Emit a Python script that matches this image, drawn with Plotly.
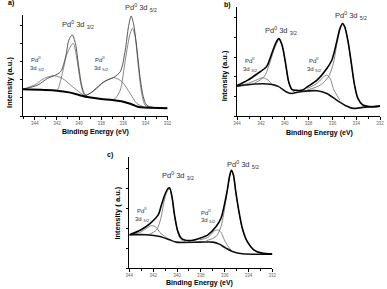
import plotly.graph_objects as go

W, H = 387, 289

# ---------------- data (binding energy eV, intensity a.u. 0-100) ----------------
# panel a
a_bg_E = [345.1, 342.0, 340.9, 340.0, 339.1, 338.0, 337.0, 336.0, 335.3, 334.7, 334.0, 332.0]
a_bg_I = [26.4, 25.1, 23.4, 20.8, 18.5, 16.8, 15.8, 14.2, 11.9, 9.2, 8.3, 7.6]
a_env_E = [345.1, 343.73, 342.84, 342.25, 341.66, 341.21, 340.92, 340.62, 340.33, 340.03, 339.73,
           339.44, 339.0, 338.64, 337.75, 336.86, 336.27, 335.82, 335.53, 335.29, 335.08, 334.79,
           334.49, 334.19, 333.9, 333.3, 332.0]
a_env_I = [26.4, 30.7, 37.3, 39.9, 43.9, 58.7, 75.2, 80.2, 71.9, 48.8, 29.0,
           20.8, 22.4, 25.7, 34.0, 38.3, 43.9, 65.3, 88.4, 99.0, 91.7, 68.6,
           38.9, 19.1, 10.9, 8.6, 7.6]
a_p0_32_E = [342.3, 341.96, 341.51, 341.07, 340.53, 340.18, 339.88, 339.59, 339.3]
a_p0_32_I = [25.2, 25.7, 42.2, 62.0, 71.9, 55.4, 34.0, 22.4, 20.1]
a_p2_32_E = [345.1, 344.03, 343.14, 342.25, 341.51, 340.77, 340.03, 339.44]
a_p2_32_I = [26.4, 30.7, 37.3, 39.9, 37.3, 30.7, 24.1, 19.8]
a_p0_52_E = [336.9, 336.71, 336.27, 335.82, 335.38, 335.17, 334.93, 334.64, 334.34, 334.04, 333.6]
a_p0_52_I = [16.2, 17.5, 25.7, 55.4, 81.8, 86.8, 78.5, 48.8, 22.4, 10.9, 8.3]
a_p2_52_E = [339.41, 338.64, 337.75, 336.86, 336.12, 335.38, 334.79, 334.19]
a_p2_52_I = [20.1, 25.0, 33.5, 38.0, 34.0, 22.4, 12.5, 9.2]

# panel b
b_bg_E = [344.0, 342.5, 341.4, 340.58, 339.89, 339.48, 338.66, 337.29, 336.47, 335.64, 334.82, 334.27, 333.45, 332.0]
b_bg_I = [27.4, 29.3, 29.3, 27.4, 22.3, 20.7, 22.3, 23.2, 20.7, 14.6, 9.1, 7.0, 7.9, 9.1]
b_env_E = [344.0, 343.1, 342.27, 341.59, 341.45, 341.04, 340.77, 340.49, 340.22, 339.95, 339.67, 339.4,
           339.0, 338.5, 338.11, 337.29, 336.47, 336.05, 335.64, 335.37, 335.15, 334.96, 334.68,
           334.41, 334.14, 333.86, 333.45, 332.63, 332.0]
b_env_I = [28.0, 32.9, 39.0, 44.5, 46.6, 58.8, 66.5, 71.0, 64.9, 49.7, 31.4, 24.5,
           23.5, 23.8, 26.8, 32.9, 43.6, 51.2, 68.0, 80.2, 84.8, 81.7, 68.0,
           48.2, 28.4, 16.2, 10.1, 8.5, 9.1]
b_p2_32_E = [344.0, 343.0, 342.3, 341.86, 341.4, 341.0, 340.6]
b_p2_32_I = [27.6, 30.2, 33.4, 35.1, 33.0, 28.4, 27.0]
b_p0_32_E = [342.55, 341.73, 341.32, 340.96, 340.68, 340.49, 340.22, 339.95, 339.67, 339.4, 339.1]
b_p0_32_I = [29.9, 36.0, 46.6, 58.8, 66.5, 70.4, 64.3, 49.1, 31.0, 23.5, 21.5]
b_p2_52_E = [338.11, 337.29, 336.74, 336.47, 336.19, 335.92, 335.64, 335.37]
b_p2_52_I = [25.3, 29.9, 36.0, 37.5, 34.5, 25.3, 19.2, 14.6]
b_p0_52_E = [338.11, 337.01, 336.33, 335.92, 335.64, 335.37, 335.15, 334.96, 334.68, 334.41, 334.14, 333.86, 333.45]
b_p0_52_I = [23.8, 28.4, 36.0, 48.2, 64.9, 78.7, 84.1, 81.1, 67.4, 47.6, 27.8, 15.6, 10.1]

# panel c
c_bg_E = [344.0, 342.54, 341.45, 340.62, 340.07, 338.09, 336.99, 336.45, 335.9, 335.35, 334.52, 332.0]
c_bg_I = [29.9, 29.9, 28.4, 25.4, 23.3, 23.3, 23.3, 21.5, 17.9, 14.9, 12.8, 12.5]
c_env_E = [344.0, 343.09, 342.27, 341.58, 341.31, 341.03, 340.76, 340.62, 340.4, 340.21, 339.93, 339.66,
           339.3, 338.8, 338.09, 337.41, 336.72, 336.31, 336.03, 335.76, 335.57, 335.43, 335.26,
           335.07, 334.8, 334.52, 334.11, 333.56, 332.87, 332.0]
c_env_I = [29.9, 34.0, 40.0, 47.8, 56.7, 65.7, 71.6, 72.2, 62.7, 47.8, 33.0, 27.0,
           25.0, 24.8, 26.9, 29.9, 37.3, 44.8, 56.7, 71.6, 83.6, 88.1, 83.6,
           68.7, 50.7, 35.8, 23.9, 16.4, 13.4, 12.5]
c_p2_32_E = [344.0, 343.09, 342.13, 341.72, 341.45, 341.03, 340.62]
c_p2_32_I = [29.3, 32.2, 38.2, 36.4, 32.2, 28.4, 25.4]
c_p0_32_E = [342.54, 341.72, 341.36, 341.09, 340.84, 340.62, 340.4, 340.21, 339.93, 339.66, 339.3]
c_p0_32_I = [29.3, 34.3, 44.8, 59.7, 68.7, 71.3, 62.0, 47.0, 32.0, 25.5, 23.5]
c_p2_52_E = [338.09, 337.41, 336.86, 336.58, 336.31, 336.03, 335.76, 335.48]
c_p2_52_I = [25.4, 27.5, 33.4, 34.3, 32.2, 25.4, 20.3, 16.4]
c_p0_52_E = [337.54, 336.72, 336.31, 336.03, 335.76, 335.57, 335.43, 335.26, 335.07, 334.8, 334.52, 334.11, 333.56, 332.87]
c_p0_52_I = [24.5, 28.4, 37.3, 52.2, 70.1, 83.0, 87.5, 83.0, 68.2, 50.2, 35.3, 23.6, 16.2, 13.3]

x_ticks = [344, 342, 340, 338, 336, 334, 332]
x_labels = ["344", "342", "340", "338", "336", "334", "332"]

# ---------------- figure ----------------
fig = go.Figure()
FONT = "Arial"
GRAY = "#6a6a6a"


def line(E, I, ax, width, color):
    fig.add_trace(go.Scatter(x=E, y=I, xaxis="x" + ax, yaxis="y" + ax, mode="lines",
                             line=dict(shape="spline", smoothing=0.8, width=width, color=color),
                             hoverinfo="skip", showlegend=False))


for E, I in [(a_p2_32_E, a_p2_32_I), (a_p0_32_E, a_p0_32_I), (a_p2_52_E, a_p2_52_I), (a_p0_52_E, a_p0_52_I)]:
    line(E, I, "", 0.8, GRAY)
line(a_env_E, a_env_I, "", 0.9, "#444")
line(a_bg_E, a_bg_I, "", 2.0, "#000")

for E, I in [(b_p2_32_E, b_p2_32_I), (b_p0_32_E, b_p0_32_I), (b_p2_52_E, b_p2_52_I), (b_p0_52_E, b_p0_52_I)]:
    line(E, I, "2", 0.8, GRAY)
line(b_bg_E, b_bg_I, "2", 1.6, "#111")
line(b_env_E, b_env_I, "2", 1.6, "#000")

for E, I in [(c_p2_32_E, c_p2_32_I), (c_p0_32_E, c_p0_32_I), (c_p2_52_E, c_p2_52_I), (c_p0_52_E, c_p0_52_I)]:
    line(E, I, "3", 0.8, GRAY)
line(c_bg_E, c_bg_I, "3", 1.6, "#111")
line(c_env_E, c_env_I, "3", 1.6, "#000")


def px(x):
    return x / W


def py(y):
    return 1 - y / H


def xax(x0, x1, y_anchor, rng):
    return dict(domain=[px(x0), px(x1)], anchor=y_anchor, range=rng, showgrid=False, zeroline=False,
                showline=True, linecolor="#000", linewidth=1, ticks="outside", ticklen=3, tickwidth=0.7,
                tickcolor="#000", tickvals=x_ticks, ticktext=x_labels,
                tickfont=dict(size=4.5, color="#666", family=FONT),
                minor=dict(dtick=1, ticks="outside", ticklen=2, tickwidth=0.6, tickcolor="#000"))


def yax(y0, y1, x_anchor):
    return dict(domain=[py(y1), py(y0)], anchor=x_anchor, range=[0, 100], showgrid=False, zeroline=False,
                showline=True, linecolor="#000", linewidth=1, ticks="outside", ticklen=2, tickwidth=0.6,
                tickcolor="#000", dtick=18, showticklabels=False)


fig.update_layout(
    width=W, height=H, margin=dict(l=0, r=0, t=0, b=0),
    paper_bgcolor="white", plot_bgcolor="white",
    font=dict(family=FONT),
    xaxis=xax(19, 167, "y", [345.1, 332]),
    yaxis=yax(15, 116, "x"),
    xaxis2=xax(238, 384, "y2", [344, 332]),
    yaxis2=yax(7, 116, "x2"),
    xaxis3=xax(128, 274, "y3", [344, 332]),
    yaxis3=yax(157, 268, "x3"),
)

ann = []


def text(t, x, y, size, bold=False, angle=0, anchor="left", color="#000"):
    ann.append(dict(text=("<b>%s</b>" % t) if bold else t, x=px(x), y=py(y), xref="paper", yref="paper",
                    showarrow=False, xanchor=anchor, yanchor="middle", textangle=angle,
                    font=dict(size=size, family=FONT, color=color)))


text("a)", 2, 3, 7, bold=True)
text("b)", 223, 5, 7, bold=True)
text("c)", 103, 155, 7, bold=True)
text("Binding Energy (eV)", 93, 132, 7, bold=True, anchor="center")
text("Binding Energy (eV)", 322, 133, 7, bold=True, anchor="center")
text("Binding Energy (eV)", 200, 283, 7, bold=True, anchor="center")
text("Intensity (a.u.)", 5, 82, 7.5, bold=True, angle=-90, anchor="center")
text("Intensity (a.u.)", 225, 76, 7.5, bold=True, angle=-90, anchor="center")
text("Intensity ( a.u.)", 115, 213, 7.5, bold=True, angle=-90, anchor="center")

LC = "#333"
P0_32 = "Pd<sup>0</sup> 3d <sub>3/2</sub>"
P0_52 = "Pd<sup>0</sup> 3d <sub>5/2</sub>"
P2 = "Pd<sup>II</sup>"
D32 = "3d <sub>3/2</sub>"
D52 = "3d <sub>5/2</sub>"
text(P0_32, 57, 25, 7.5, color=LC)
text(P0_52, 122, 7, 7.5, color=LC)
text(P2, 26, 59, 6, color=LC)
text(D32, 24, 68, 6, color=LC)
text(P2, 91, 59, 6, color=LC)
text(D52, 90, 68, 6, color=LC)
text(P0_32, 264, 31, 7.5, color=LC)
text(P0_52, 336, 16, 7.5, color=LC)
text(P2, 244, 60, 6, color=LC)
text(D32, 242, 69, 6, color=LC)
text(P2, 309, 60, 6, color=LC)
text(D52, 307, 69, 6, color=LC)
text(P0_32, 159, 175, 7.5, color=LC)
text(P0_52, 226, 164, 7.5, color=LC)
text(P2, 134, 210, 6, color=LC)
text(D32, 132, 219, 6, color=LC)
text(P2, 199, 212, 6, color=LC)
text(D52, 199, 220, 6, color=LC)

fig.update_layout(annotations=ann)
fig.write_html("out.html")
